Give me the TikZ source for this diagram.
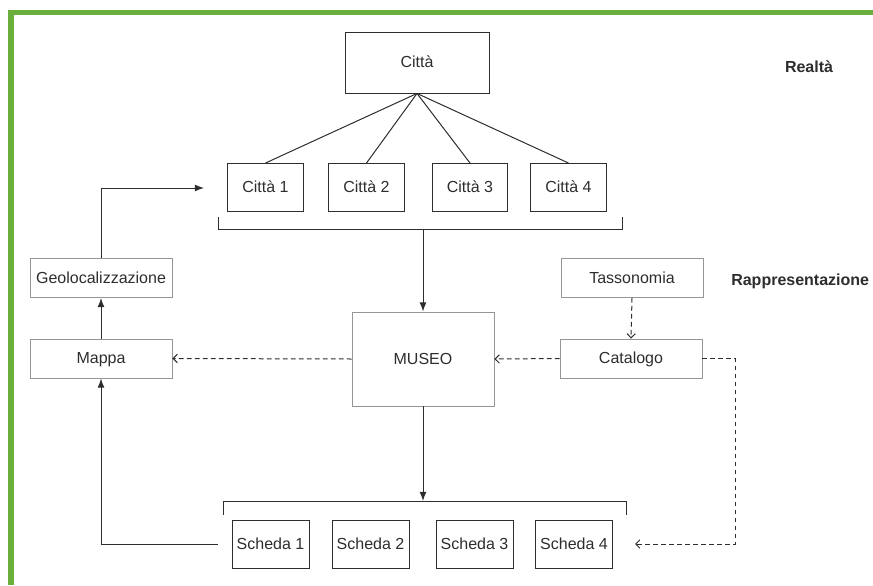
\documentclass[tikz,border=0pt]{standalone}
\usepackage{fontspec}
\setmainfont{Liberation Sans}
\usetikzlibrary{arrows.meta}
\definecolor{frame}{RGB}{106,174,60}
\definecolor{ink}{RGB}{45,45,45}
\definecolor{pale}{RGB}{150,150,150}

\begin{document}
\begin{tikzpicture}[x=0.75pt, y=-0.75pt, every node/.style={font=\fontsize{12}{14}\selectfont, text=ink, inner sep=0pt, text height=8.6pt, text depth=0.5pt},
	>={Latex[length=2.4mm, width=1.8mm]},
	darkbox/.style={draw=ink, line width=0.7pt, minimum width=56.5pt, minimum height=36pt},
	palebox/.style={draw=pale, line width=0.7pt, minimum width=106.5pt, minimum height=29.25pt},
	link/.style={draw=ink, line width=0.75pt},
	dashlink/.style={draw=ink, line width=0.75pt, dash pattern=on 3.5pt off 2.5pt, -{Straight Barb[length=1.1mm, width=2.2mm]}}]
	\useasboundingbox (0,0) rectangle (873,585);
	% frame
	\draw[frame, line width=4.2pt] (11,585) -- (11,12.5) -- (873,12.5);
	% reality level
	\node[darkbox, minimum width=108pt, minimum height=45.75pt] (citta) at (417,62.5) {Città};
	\node[darkbox] (citta1) at (265.5,187.5) {Città 1};
	\node[darkbox] (citta2) at (366.5,187.5) {Città 2};
	\node[darkbox] (citta3) at (470,187.5) {Città 3};
	\node[darkbox] (citta4) at (568.5,187.5) {Città 4};
	\foreach \i in {1,...,4}
		\draw[link] (citta.south) -- (citta\i.north);
	\draw[link] (218,217) -- (218,229) -- (622,229) -- (622,217);
	\coordinate (topbar) at (423,229);
	\node[font=\fontsize{12}{14}\selectfont\bfseries] (realta) at (809,67) {Realtà};
	% representation level
	\node[font=\fontsize{12}{14}\selectfont\bfseries, anchor=west] (rappr) at (731,280) {Rappresentazione};
	\node[palebox, minimum height=70.5pt] (museo) at (423,359) {MUSEO};
	\node[palebox] (tasso) at (632,278) {Tassonomia};
	\node[palebox] (catalogo) at (631,358.5) {Catalogo};
	\node[palebox] (geo) at (101,278) {Geolocalizzazione};
	\node[palebox] (mappa) at (101,358.5) {Mappa};
	% cards
	\node[darkbox, minimum width=57.75pt] (scheda1) at (270.5,544) {Scheda 1};
	\node[darkbox, minimum width=57.75pt] (scheda2) at (370.5,544) {Scheda 2};
	\node[darkbox, minimum width=57.75pt] (scheda3) at (474.5,544) {Scheda 3};
	\node[darkbox, minimum width=57.75pt] (scheda4) at (574,544) {Scheda 4};
	\draw[link] (223,515) -- (223,501) -- (626,501) -- (626,515);
	\coordinate (botbar) at (423,501);
	\coordinate (c1in) at (204,188);
	\coordinate (s1out) at (218,544);
	\coordinate (s4in) at (635,544);
	% connectors
	\draw[link, ->] (topbar) -- (museo.north);
	\draw[link, ->] (museo.south) -- (botbar);
	\draw[link, ->] (mappa.north) -- (geo.south);
	\draw[link, ->] (geo.north) |- (c1in);
	\draw[link, ->] (s1out) -| (mappa.south);
	\draw[dashlink] (museo.west) -- (mappa.east);
	\draw[dashlink] (catalogo.west) -- (museo.east);
	\draw[dashlink] (tasso.south) -- (catalogo.north);
	\draw[dashlink] (catalogo.east) -- ++(33,0) |- (s4in);
\end{tikzpicture}
\end{document}
